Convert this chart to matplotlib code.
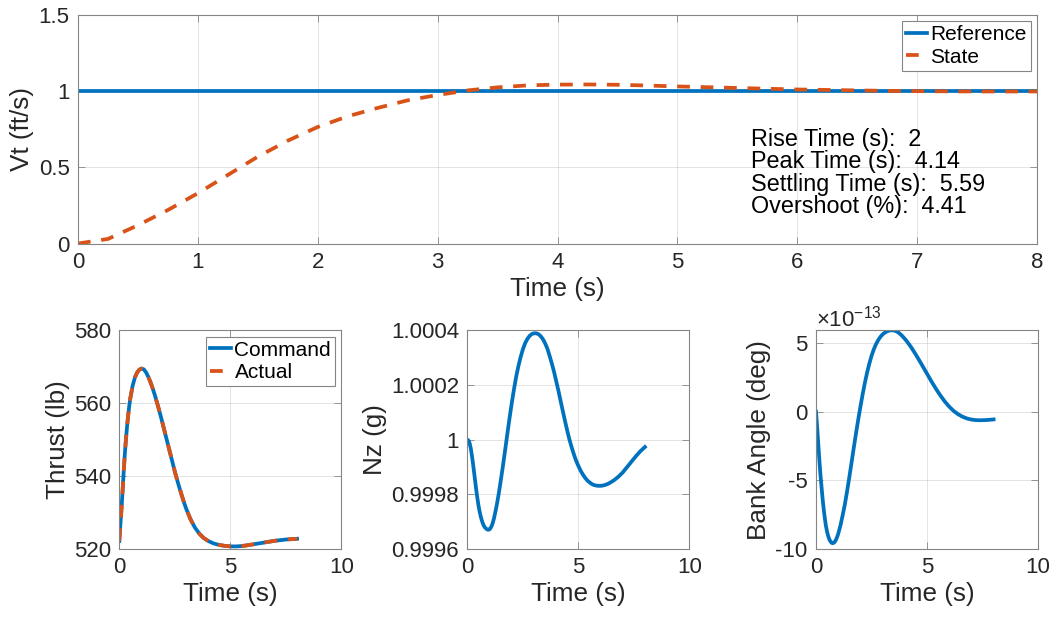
import numpy as np
import matplotlib.pyplot as plt
from matplotlib.ticker import FuncFormatter, ScalarFormatter

plt.rcParams['font.family'] = ['Liberation Sans', 'DejaVu Sans']
plt.rcParams['axes.unicode_minus'] = False
plt.rcParams['mathtext.fontset'] = 'custom'
plt.rcParams['mathtext.rm'] = 'Liberation Sans'

BLUE = '#0072BD'
ORANGE = '#D95319'
TXT = '#262626'
EDGE = '#858585'

# Vt step response
t_vt = np.linspace(0, 8, 33)
vt_ref = np.ones_like(t_vt)
vt_state = np.array([0.0, 0.03, 0.12, 0.22, 0.33, 0.45, 0.57, 0.675, 0.765,
                     0.835, 0.89, 0.94, 0.975, 1.005, 1.025, 1.038, 1.043,
                     1.044, 1.042, 1.037, 1.031, 1.026, 1.021, 1.016, 1.011,
                     1.008, 1.005, 1.002, 1.0, 0.999, 0.998, 0.998, 0.998])
metrics = {'Rise Time (s)': '2', 'Peak Time (s)': '4.14',
           'Settling Time (s)': '5.59', 'Overshoot (%)': '4.41'}

# Thrust command / actual
t_thr = np.array([0, 0.05, 0.1, 0.15, 0.2, 0.25, 0.3, 0.35, 0.4, 0.45, 0.5,
                  0.6, 0.7, 0.8, 0.9, 1.0, 1.1, 1.2, 1.3, 1.4, 1.5, 1.6, 1.7,
                  1.8, 1.9, 2.0, 2.1, 2.2, 2.3, 2.4, 2.5, 2.6, 2.7, 2.8, 2.9,
                  3.0, 3.2, 3.4, 3.6, 3.8, 4.0, 4.25, 4.5, 4.75, 5.0, 5.25,
                  5.5, 5.75, 6.0, 6.5, 7.0, 7.5, 8.0])
thrust = np.array([522.2, 526.9, 531.2, 536.2, 541.5, 546.2, 550.2, 553.7,
                   556.7, 559.4, 561.5, 564.8, 567.0, 568.4, 569.2, 569.5,
                   569.3, 568.5, 567.3, 565.8, 564.1, 562.2, 560.1, 557.9,
                   555.6, 553.2, 550.8, 548.4, 546.0, 543.6, 541.2, 539.0,
                   536.9, 534.9, 533.0, 531.2, 528.2, 525.9, 524.2, 523.0,
                   522.2, 521.5, 521.1, 520.85, 520.72, 520.7, 520.8, 521.0,
                   521.25, 521.75, 522.25, 522.6, 522.8])

# Nz, stored as deviation from 1 g in units of 1e-4
t_nz = np.array([0, 0.05, 0.1, 0.15, 0.2, 0.25, 0.3, 0.35, 0.4, 0.45, 0.5,
                 0.55, 0.6, 0.65, 0.7, 0.75, 0.8, 0.85, 0.9, 0.95, 1.0, 1.05,
                 1.1, 1.15, 1.2, 1.3, 1.4, 1.5, 1.6, 1.7, 1.8, 1.9, 2.0, 2.1,
                 2.2, 2.3, 2.4, 2.5, 2.6, 2.7, 2.8, 2.9, 3.0, 3.1, 3.2, 3.3,
                 3.4, 3.5, 3.6, 3.7, 3.8, 3.9, 4.0, 4.1, 4.2, 4.3, 4.4, 4.5,
                 4.6, 4.7, 4.8, 4.9, 5.0, 5.1, 5.2, 5.3, 5.4, 5.5, 5.6, 5.7,
                 5.8, 5.9, 6.0, 6.1, 6.2, 6.3, 6.4, 6.6, 6.8, 7.0, 7.2, 7.4,
                 7.6, 7.8, 8.0])
nz_dev_e4 = np.array([0, -0.03, -0.12, -0.3, -0.55, -0.85, -1.17, -1.5,
                      -1.83, -2.13, -2.4, -2.62, -2.8, -2.95, -3.07, -3.16,
                      -3.22, -3.26, -3.29, -3.3, -3.28, -3.23, -3.15, -3.03,
                      -2.88, -2.5, -2.05, -1.53, -0.98, -0.4, 0.2, 0.78, 1.33,
                      1.84, 2.3, 2.69, 3.02, 3.3, 3.52, 3.68, 3.79, 3.86,
                      3.89, 3.89, 3.86, 3.79, 3.68, 3.53, 3.34, 3.08, 2.8,
                      2.5, 2.15, 1.8, 1.42, 1.05, 0.68, 0.33, 0.0, -0.28,
                      -0.54, -0.77, -0.96, -1.13, -1.27, -1.39, -1.49, -1.56,
                      -1.62, -1.66, -1.68, -1.69, -1.69, -1.68, -1.66, -1.63,
                      -1.59, -1.49, -1.36, -1.2, -1.0, -0.8, -0.6, -0.42,
                      -0.27])
nz = 1 + nz_dev_e4 * 1e-4

# Bank angle in units of 1e-13 deg
t_bank = np.array([0, 0.05, 0.1, 0.15, 0.2, 0.25, 0.3, 0.35, 0.4, 0.45, 0.5,
                   0.55, 0.6, 0.65, 0.7, 0.75, 0.8, 0.85, 0.9, 0.95, 1.0, 1.1,
                   1.2, 1.3, 1.4, 1.5, 1.6, 1.7, 1.8, 1.9, 2.0, 2.1, 2.2, 2.3,
                   2.4, 2.5, 2.6, 2.7, 2.8, 2.9, 3.0, 3.1, 3.2, 3.3, 3.4, 3.5,
                   3.6, 3.7, 3.8, 3.9, 4.0, 4.1, 4.2, 4.3, 4.4, 4.5, 4.6, 4.7,
                   4.8, 4.9, 5.0, 5.2, 5.4, 5.6, 5.8, 6.0, 6.2, 6.4, 6.6, 6.8,
                   7.0, 7.2, 7.4, 7.6, 7.8, 8.0])
bank_e13 = np.array([0, -1.1, -2.3, -3.5, -4.6, -5.5, -6.4, -7.15, -7.8,
                     -8.35, -8.75, -9.07, -9.3, -9.45, -9.55, -9.58, -9.55,
                     -9.47, -9.33, -9.13, -8.9, -8.3, -7.55, -6.75, -5.8,
                     -4.78, -3.72, -2.65, -1.6, -0.6, 0.35, 1.25, 2.08, 2.83,
                     3.48, 4.05, 4.52, 4.9, 5.2, 5.44, 5.62, 5.75, 5.84, 5.9,
                     5.92, 5.91, 5.86, 5.77, 5.64, 5.48, 5.3, 5.1, 4.88, 4.65,
                     4.4, 4.14, 3.87, 3.6, 3.32, 3.04, 2.76, 2.2, 1.67, 1.18,
                     0.74, 0.36, 0.05, -0.19, -0.37, -0.5, -0.58, -0.62,
                     -0.63, -0.62, -0.6, -0.57])
bank = bank_e13 * 1e-13

TICK_FS = 16
LABEL_FS = 18.8
LW = 2.7
DASH = (3.4, 2.85)


class Sci13Formatter(ScalarFormatter):
    # plain tick numbers, exponent shown once above the axis
    def get_offset(self):
        return r'$\times\mathdefault{10^{-13}}$'


def style(ax):
    ax.grid(True, color=TXT, alpha=0.15, linewidth=0.6)
    ax.tick_params(direction='in', length=5, width=0.6, colors=EDGE,
                   labelcolor=TXT, labelsize=TICK_FS, top=True, right=True,
                   pad=6)
    for s in ax.spines.values():
        s.set_color(EDGE)
        s.set_linewidth(0.8)


def add_legend(ax):
    leg = ax.legend(loc='upper right', fontsize=15, handlelength=1.0,
                    handletextpad=0.15, borderpad=0.2, labelspacing=0.15,
                    borderaxespad=0.3, fancybox=False, framealpha=1)
    leg.get_frame().set_edgecolor(EDGE)
    leg.get_frame().set_linewidth(0.8)


fmt_g = FuncFormatter(lambda v, p: f'{v:.4f}'.rstrip('0').rstrip('.'))

fig = plt.figure(figsize=(10.54, 6.22), dpi=100)

# top: Vt
ax = fig.add_axes([0.074, 0.6085, 0.910, 0.3674])
ax.plot(t_vt, vt_ref, color=BLUE, lw=LW, label='Reference')
ax.plot(t_vt, vt_state, color=ORANGE, lw=LW, dashes=DASH, label='State')
ax.set_xlim(0, 8)
ax.set_ylim(0, 1.5)
ax.set_yticks([0, 0.5, 1, 1.5])
ax.yaxis.set_major_formatter(fmt_g)
style(ax)
ax.set_xlabel('Time (s)', fontsize=LABEL_FS, color=TXT, labelpad=3)
ax.set_ylabel('Vt (ft/s)', fontsize=LABEL_FS, color=TXT, labelpad=3)
add_legend(ax)
info = '\n'.join(f'{k}:  {v}' for k, v in metrics.items())
ax.text(5.61, 0.76, info, fontsize=16.8, color='black', va='top', ha='left',
        linespacing=0.97)

# bottom left: thrust
ax = fig.add_axes([0.1132, 0.1174, 0.2108, 0.3516])
ax.plot(t_thr, thrust, color=BLUE, lw=LW, label='Command')
ax.plot(t_thr, thrust, color=ORANGE, lw=LW, dashes=DASH, label='Actual')
ax.set_xlim(0, 10)
ax.set_ylim(520, 580)
ax.set_xticks([0, 5, 10])
ax.set_yticks([520, 540, 560, 580])
style(ax)
ax.set_xlabel('Time (s)', fontsize=LABEL_FS, color=TXT, labelpad=3)
ax.set_ylabel('Thrust (lb)', fontsize=LABEL_FS, color=TXT, labelpad=3)
add_legend(ax)

# bottom middle: Nz
ax = fig.add_axes([0.4434, 0.1174, 0.2106, 0.3516])
ax.plot(t_nz, nz, color=BLUE, lw=LW)
ax.set_xlim(0, 10)
ax.set_ylim(0.9996, 1.0004)
ax.set_xticks([0, 5, 10])
ax.set_yticks([0.9996, 0.9998, 1.0, 1.0002, 1.0004])
ax.yaxis.set_major_formatter(fmt_g)
style(ax)
ax.set_xlabel('Time (s)', fontsize=LABEL_FS, color=TXT, labelpad=3)
ax.set_ylabel('Nz (g)', fontsize=LABEL_FS, color=TXT, labelpad=3)

# bottom right: bank angle
ax = fig.add_axes([0.7742, 0.1174, 0.2106, 0.3516])
ax.plot(t_bank, bank, color=BLUE, lw=LW)
ax.set_xlim(0, 10)
ax.set_ylim(-10e-13, bank.max())
ax.set_xticks([0, 5, 10])
ax.set_yticks([-10e-13, -5e-13, 0, 5e-13])
sf = Sci13Formatter(useMathText=False)
sf.set_powerlimits((-13, -13))
ax.yaxis.set_major_formatter(sf)
style(ax)
ax.yaxis.get_offset_text().set_fontsize(TICK_FS)
ax.yaxis.get_offset_text().set_color(TXT)
ax.set_xlabel('Time (s)', fontsize=LABEL_FS, color=TXT, labelpad=3)
ax.set_ylabel('Bank Angle (deg)', fontsize=LABEL_FS, color=TXT, labelpad=3)

fig.savefig('out.png', dpi=100, facecolor='white')
